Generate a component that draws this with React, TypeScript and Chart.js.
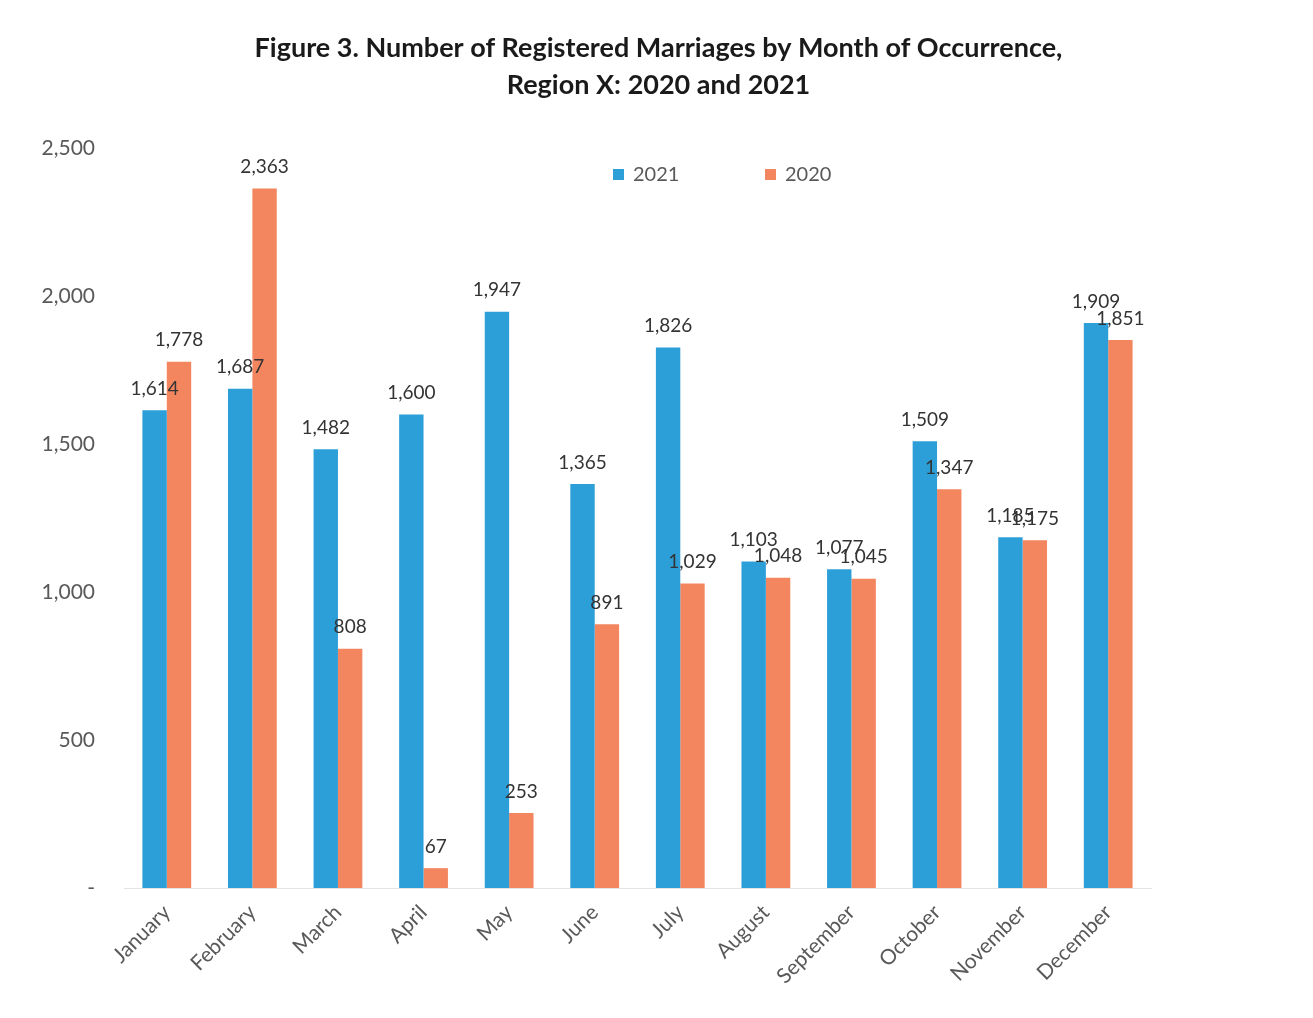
import React, { useEffect, useRef } from "react";
import { Chart, registerables } from "chart.js";

Chart.register(...registerables);

const months = ["January", "February", "March", "April", "May", "June", "July", "August", "September", "October", "November", "December"];
const values2021 = [1614, 1687, 1482, 1600, 1947, 1365, 1826, 1103, 1077, 1509, 1185, 1909];
const values2020 = [1778, 2363, 808, 67, 253, 891, 1029, 1048, 1045, 1347, 1175, 1851];
const seriesNames = ["2021", "2020"];
const yTicks = [0, 500, 1000, 1500, 2000, 2500];
const titleLines = ["Figure 3. Number of Registered Marriages by Month of Occurrence,", "Region X: 2020 and 2021"];

const BLUE = "#2C9FD8";
const ORANGE = "#F3865F";
const FONT = "Lato, 'Open Sans', sans-serif";

const fmt = (v: number) => (v === 0 ? "-" : v.toLocaleString("en-US"));

const titlePlugin = {
  id: "figureTitle",
  afterDraw(chart: any) {
    const ctx = chart.ctx;
    ctx.save();
    ctx.font = `bold 27px ${FONT}`;
    ctx.fillStyle = "#1a1a1a";
    ctx.textAlign = "center";
    ctx.textBaseline = "middle";
    const cx = chart.width / 2 + 2;
    titleLines.forEach((line, i) => ctx.fillText(line, cx, 48 + i * 37));
    ctx.restore();
  },
};

const labelPlugin = {
  id: "valueLabels",
  afterDatasetsDraw(chart: any) {
    const ctx = chart.ctx;
    ctx.save();
    ctx.font = `19px ${FONT}`;
    ctx.fillStyle = "#333333";
    ctx.textAlign = "center";
    ctx.textBaseline = "bottom";
    chart.data.datasets.forEach((ds: any, di: number) => {
      const meta = chart.getDatasetMeta(di);
      meta.data.forEach((bar: any, i: number) => {
        ctx.fillText(fmt(ds.data[i]), bar.x, bar.y - 12);
      });
    });
    ctx.restore();
  },
};

const legendPlugin = {
  id: "innerLegend",
  afterDraw(chart: any) {
    const ctx = chart.ctx;
    const area = chart.chartArea;
    const cy = area.top + 27;
    const starts = [area.left + 489, area.left + 641];
    ctx.save();
    ctx.font = `20px ${FONT}`;
    ctx.textBaseline = "middle";
    ctx.textAlign = "left";
    chart.data.datasets.forEach((ds: any, i: number) => {
      const x = starts[i];
      ctx.fillStyle = ds.backgroundColor;
      ctx.fillRect(x, cy - 6, 11, 11);
      ctx.fillStyle = "#595959";
      ctx.fillText(ds.label, x + 20, cy);
    });
    ctx.restore();
  },
};

export default function App() {
  const ref = useRef<HTMLCanvasElement | null>(null);
  useEffect(() => {
    if (!ref.current) return;
    const chart = new Chart(ref.current, {
      type: "bar",
      data: {
        labels: months,
        datasets: [
          { label: seriesNames[0], data: values2021, backgroundColor: BLUE, barPercentage: 1, categoryPercentage: 0.57 },
          { label: seriesNames[1], data: values2020, backgroundColor: ORANGE, barPercentage: 1, categoryPercentage: 0.57 },
        ],
      },
      options: {
        animation: false,
        responsive: false,
        layout: { padding: { left: 0, right: 162, top: 148, bottom: 0 } },
        plugins: {
          legend: { display: false },
          tooltip: { enabled: false },
          title: { display: false },
        },
        scales: {
          x: {
            grid: { display: false, drawTicks: false },
            border: { display: true, color: "#E3E3E3", width: 1 },
            ticks: {
              color: "#595959",
              font: { family: FONT, size: 21 },
              maxRotation: 45,
              minRotation: 45,
              padding: 12,
              autoSkip: false,
            },
            afterFit: (scale: any) => {
              scale.height = 130;
            },
          },
          y: {
            min: 0,
            max: 2500,
            afterBuildTicks: (scale: any) => {
              scale.ticks = yTicks.map((v) => ({ value: v }));
            },
            grid: { display: false, drawTicks: false },
            border: { display: false },
            ticks: {
              color: "#595959",
              font: { family: FONT, size: 21 },
              padding: 29,
              callback: (v: any) => fmt(Number(v)),
            },
            afterFit: (scale: any) => {
              scale.width = 124;
            },
          },
        },
      },
      plugins: [labelPlugin, legendPlugin, titlePlugin],
    });
    return () => chart.destroy();
  }, []);
  return (
    <div style={{ position: "fixed", left: 0, top: 0, width: 1313, height: 1018, background: "#fff" }}>
      <canvas ref={ref} width={1313} height={1018} style={{ width: 1313, height: 1018 }} />
    </div>
  );
}
